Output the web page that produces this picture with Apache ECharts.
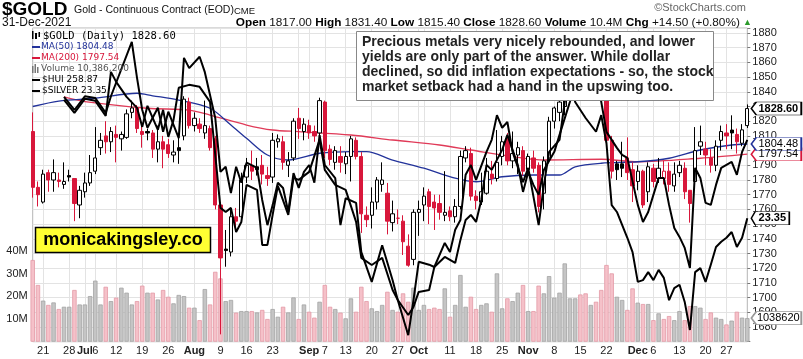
<!DOCTYPE html>
<html>
<head>
<meta charset="utf-8">
<script src="https://cdn.jsdelivr.net/npm/echarts@6/dist/echarts.min.js"></script>
<style>
html,body{margin:0;padding:0;background:#fff;}
#chart{width:803px;height:359px;}
</style>
</head>
<body>
<div id="chart"></div>
<script>
// ---------------- DATA ----------------
const dates = [
'06-17','06-18','06-21','06-22','06-23','06-24','06-25','06-28','06-29','06-30',
'07-01','07-02','07-06','07-07','07-08','07-09','07-12','07-13','07-14','07-15','07-16','07-19','07-20','07-21','07-22','07-23','07-26','07-27','07-28','07-29','07-30',
'08-02','08-03','08-04','08-05','08-06','08-09','08-10','08-11','08-12','08-13','08-16','08-17','08-18','08-19','08-20','08-23','08-24','08-25','08-26','08-27','08-30','08-31',
'09-01','09-02','09-03','09-07','09-08','09-09','09-10','09-13','09-14','09-15','09-16','09-17','09-20','09-21','09-22','09-23','09-24','09-27','09-28','09-29','09-30',
'10-01','10-04','10-05','10-06','10-07','10-08','10-11','10-12','10-13','10-14','10-15','10-18','10-19','10-20','10-21','10-22','10-25','10-26','10-27','10-28','10-29',
'11-01','11-02','11-03','11-04','11-05','11-08','11-09','11-10','11-11','11-12','11-15','11-16','11-17','11-18','11-19','11-22','11-23','11-24','11-26','11-29','11-30',
'12-01','12-02','12-03','12-06','12-07','12-08','12-09','12-10','12-13','12-14','12-15','12-16','12-17','12-20','12-21','12-22','12-23','12-27','12-28','12-29','12-30','12-31'];

const openP = [1813,1775,1765,1785,1780,1780,1777,1783,1781,1763,
1772,1778,1786,1802,1810,1806,1811,1808,1809,1826,1829,1813,1813,1812,1801,1806,1804,1797,1802,1810,1833,
1817,1818,1812,1815,1808,1763,1733,1731,1755,1755,1782,1790,1789,1790,1783,1782,1806,1806,1790,1795,1822,1813,
1817,1813,1812,1833,1801,1792,1796,1791,1796,1807,1796,1756,1756,1765,1777,1771,1751,1754,1752,1735,1726,
1758,1763,1772,1765,1764,1756,1759,1755,1762,1795,1798,1769,1765,1771,1784,1781,1796,1808,1793,1797,1800,
1787,1795,1790,1771,1795,1820,1826,1830,1850,1862,1866,1866,1853,1866,1861,1846,1807,1791,1791,1795,1787,
1779,1786,1772,1788,1781,1781,1786,1776,1785,1788,1773,1779,1803,1801,1795,1790,1807,1812,1814,1811,1805,1817];
const highP = [1826,1779,1787,1787,1794,1785,1792,1787,1781,1776,
1785,1797,1816,1812,1820,1816,1817,1813,1828,1834,1831,1817,1815,1814,1817,1810,1808,1807,1809,1837,1836,
1826,1822,1834,1817,1810,1765,1746,1760,1761,1785,1795,1800,1795,1797,1789,1812,1811,1810,1799,1822,1829,1822,
1821,1817,1836,1834,1804,1803,1803,1799,1810,1809,1799,1762,1775,1782,1792,1778,1766,1760,1756,1743,1760,
1766,1775,1774,1770,1770,1786,1762,1767,1800,1803,1802,1773,1785,1795,1793,1814,1810,1812,1813,1806,1803,
1798,1800,1792,1796,1823,1830,1835,1868,1866,1870,1873,1877,1872,1869,1866,1849,1810,1793,1806,1809,1792,
1790,1787,1792,1791,1795,1793,1792,1792,1793,1792,1773,1816,1817,1806,1801,1807,1817,1818,1824,1815,1818,1831.4];
const lowP = [1768,1762,1764,1772,1772,1775,1774,1779,1752,1754,
1768,1776,1784,1797,1798,1799,1792,1800,1808,1822,1812,1802,1807,1795,1792,1788,1795,1792,1791,1807,1815,
1813,1812,1808,1800,1760,1675,1721,1728,1748,1751,1778,1780,1783,1777,1776,1778,1802,1787,1782,1793,1808,1807,
1808,1806,1808,1795,1790,1787,1785,1784,1779,1794,1744,1748,1747,1760,1772,1743,1745,1750,1729,1721,1722,
1742,1752,1750,1746,1753,1752,1752,1751,1760,1792,1766,1760,1763,1770,1777,1779,1790,1790,1788,1784,1783,
1784,1785,1758,1760,1792,1815,1820,1824,1845,1856,1858,1849,1850,1856,1846,1802,1781,1780,1782,1780,1765,
1773,1761,1765,1775,1778,1777,1772,1772,1782,1767,1751,1776,1797,1790,1785,1786,1800,1801,1801,1798,1803,1815.4];
const closeP = [1775,1770,1784,1780,1785,1779,1779,1782,1764,1773,
1778,1785,1795,1807,1806,1813,1809,1811,1825,1829,1815,1811,1812,1801,1806,1801,1798,1799,1800,1835,1817,
1822,1815,1817,1802,1763,1727,1732,1755,1752,1780,1790,1786,1787,1784,1781,1807,1808,1792,1793,1820,1815,1818,
1812,1810,1834,1800,1794,1800,1792,1796,1808,1796,1757,1753,1765,1780,1780,1752,1757,1754,1738,1722,1758,
1760,1769,1762,1761,1758,1758,1755,1762,1796,1800,1769,1766,1772,1786,1781,1792,1806,1793,1798,1802,1786,
1796,1788,1762,1793,1820,1829,1833,1850,1862,1868,1866,1853,1868,1860,1852,1807,1786,1787,1788,1785,1776,
1786,1763,1789,1779,1788,1786,1777,1784,1790,1772,1764,1800,1806,1797,1790,1803,1813,1810,1812,1806,1814.1,1828.6];
// volume in millions
const volumeM = [36.0,25.0,18.1,16.2,17.3,14.4,15.4,15.4,22.8,16.4,
16.4,20.1,26.9,16.4,24.2,17.9,19.4,23.8,21.6,16.4,17.9,24.7,21.6,21.6,18.6,22.8,19.8,16.9,20.6,20.1,15.0,
15.0,9.5,23.2,16.4,30.8,27.9,17.9,18.4,12.8,13.5,13.5,13.5,12.9,14.0,10.0,14.4,11.0,15.4,12.9,19.5,10.0,16.4,
13.2,10.6,17.6,25.0,15.4,14.4,12.8,10.3,19.1,13.2,24.2,17.9,14.7,13.5,16.2,22.0,14.0,13.2,21.3,17.6,23.8,
14.0,16.2,14.4,15.0,14.4,23.5,11.0,16.2,29.4,15.4,19.8,14.4,16.2,16.9,13.2,30.1,14.7,19.1,17.9,21.6,25.0,
13.5,13.5,24.7,21.3,28.9,19.4,21.6,34.5,19.1,19.1,20.8,21.3,16.2,17.6,22.8,33.8,30.1,19.8,18.4,14.0,23.5,
17.2,16.6,16.6,9.5,12.5,10.0,11.3,9.5,13.5,9.5,15.7,15.7,15.0,10.0,12.9,10.6,10.0,7.6,9.3,13.2,10.6,10.3862];
// moving averages: [dayIndex, value]
const ma50 = [[0,1830.0],[5,1833.7],[12,1835.6],[20,1839.0],[23,1837.3],[28,1834.4],[34,1828.8],[38,1817.4],[41,1808.4],[45,1797.0],[49,1793.6],[55,1798.2],[61,1799.3],[64,1799.3],[69,1793.6],[75,1788.0],[81,1781.2],[85,1778.8],[90,1782.2],[96,1783.4],[101,1783.4],[104,1789.0],[109,1791.4],[116,1792.4],[122,1794.8],[128,1800.4],[134,1803.8],[137,1804.48]];
const ma200 = [[6,1836.5],[10,1833.3],[22,1828.8],[30,1827.6],[34,1824.2],[41,1817.4],[46,1814.0],[51,1812.9],[61,1810.6],[69,1807.2],[78,1803.8],[84,1800.4],[92,1795.9],[98,1793.6],[109,1794.1],[116,1792.4],[128,1794.8],[137,1797.54]];
// overlays: [dayIndex, value]
const hui = [[6,265.71],[8,263.49],[10,265.88],[12,265.54],[14,262.97],[15,270.49],[16,268.78],[18,266.22],[20,264.34],[21,261.09],[22,264.68],[24,260.58],[25,264.00],[26,259.38],[27,262.29],[28,267.76],[30,268.27],[32,267.93],[34,265.37],[36,247.25],[37,246.56],[38,247.25],[39,243.14],[40,244.85],[41,251.18],[43,250.32],[44,240.92],[45,240.92],[46,246.05],[47,251.01],[49,246.05],[50,252.37],[51,252.03],[53,253.40],[55,258.87],[56,253.74],[58,251.18],[60,250.32],[62,244.85],[63,238.70],[65,237.50],[67,238.70],[69,233.23],[70,231.52],[72,228.96],[73,230.32],[74,232.89],[76,233.23],[77,237.16],[79,238.87],[81,237.84],[82,241.78],[83,245.19],[84,246.05],[85,244.85],[86,248.61],[87,254.60],[88,253.74],[90,257.16],[91,259.72],[93,254.60],[94,249.98],[95,253.40],[96,251.18],[97,249.47],[98,253.74],[100,256.82],[101,259.72],[103,265.37],[105,272.55],[107,273.40],[108,269.13],[109,265.37],[110,260.24],[112,257.50],[113,256.31],[114,255.79],[116,247.76],[117,244.85],[118,246.56],[119,249.47],[120,252.37],[121,252.37],[122,247.76],[123,243.83],[124,242.29],[125,240.41],[126,236.99],[127,254.08],[128,252.37],[129,248.10],[130,247.76],[131,251.18],[132,254.08],[134,255.11],[135,252.89],[136,256.82],[137,258.87]];
const silver = [[6,25.47],[8,25.24],[10,25.48],[12,25.45],[14,25.19],[15,25.48],[19,26.43],[20,25.80],[21,25.24],[22,24.93],[24,25.28],[25,24.86],[26,25.21],[28,24.75],[29,26.15],[30,25.97],[32,26.17],[33,25.90],[35,25.10],[36,24.16],[37,24.25],[38,23.79],[39,24.25],[40,23.97],[41,24.32],[43,24.23],[44,23.67],[45,23.23],[46,23.58],[47,23.97],[48,23.88],[49,23.46],[50,24.14],[51,23.88],[52,24.16],[53,24.28],[54,23.97],[55,24.80],[56,24.28],[58,24.05],[59,23.23],[60,23.70],[62,23.62],[63,22.76],[65,22.24],[67,22.88],[69,22.27],[70,21.92],[72,21.31],[73,21.92],[74,22.59],[76,22.54],[77,22.50],[79,22.92],[80,22.76],[81,23.15],[82,23.32],[83,24.11],[84,24.28],[85,24.02],[87,24.51],[88,24.72],[89,25.15],[90,24.93],[91,25.03],[92,24.51],[94,23.98],[95,24.23],[97,23.23],[98,23.93],[99,24.51],[101,24.72],[102,25.38],[103,25.94],[104,25.38],[106,25.10],[108,24.86],[109,25.15],[110,24.66],[111,23.58],[112,23.46],[114,23.01],[115,22.76],[116,22.24],[117,22.27],[118,22.41],[119,22.27],[120,22.45],[121,22.31],[122,21.92],[123,22.13],[124,22.19],[125,21.89],[126,21.40],[127,22.41],[128,22.48],[129,22.24],[130,22.54],[131,22.85],[132,22.94],[133,23.01],[134,23.11],[135,22.85],[136,23.01],[137,23.35]];
// x tick labels
const tickLabels = {'06-21':'21','06-28':'28','07-01':'Jul','07-06':'6','07-12':'12','07-19':'19','07-26':'26','08-02':'Aug','08-09':'9','08-16':'16','08-23':'23','09-01':'Sep','09-07':'7','09-13':'13','09-20':'20','09-27':'27','10-01':'Oct','10-11':'11','10-18':'18','10-25':'25','11-01':'Nov','11-08':'8','11-15':'15','11-22':'22','12-01':'Dec','12-06':'6','12-13':'13','12-20':'20','12-27':'27'};
const monthNames = ['Jul','Aug','Sep','Oct','Nov','Dec'];
const extraGridDates = ['08-30','10-04','11-29'];
const volumeTickLabels = [10,20,30,40];

// ---------------- STYLE ----------------
const RED = '#d8173b';
const BLUE = '#22329a';
const MA200C = '#e03a58';
const FONT = '"Liberation Sans", Arial, sans-serif';
const n = dates.length, last = n - 1;
const gridDates = Object.keys(tickLabels).concat(extraGridDates);

const candleData = dates.map((d, i) => {
  const o = openP[i], c = closeP[i];
  const up = i === 0 ? c >= o : c >= closeP[i - 1];
  const col = up ? '#000' : RED;
  const fill = c > o ? '#fff' : col;
  return { value: [o, c, lowP[i], highP[i]],
    itemStyle: { color: fill, color0: fill, borderColor: col, borderColor0: col, borderColorDoji: col, borderWidth: 1 } };
});
const volData = dates.map((d, i) => {
  const down = i === 0 ? closeP[i] < openP[i] : closeP[i] < closeP[i - 1];
  return { value: volumeM[i],
    itemStyle: { color: down ? '#f5c1c9' : '#c5c5c5', borderColor: down ? '#e399a6' : '#a3a3a3', borderWidth: 0.8 } };
});

function tag(x, y, text, border, w, bold) {
  return {
    silent: true, animation: false,
    symbol: 'path://M0,6L5,0L50,0L50,12L5,12Z',
    symbolSize: [w, 13], symbolKeepAspect: false,
    symbolOffset: [w / 2 + 4, 0],
    itemStyle: { color: '#fff', borderColor: border, borderWidth: 1 },
    label: { show: true, position: 'inside', formatter: text, color: '#000', fontSize: 11,
      fontWeight: bold ? 'bold' : 'normal', fontFamily: FONT, offset: [2, 0] },
    data: [{ coord: [x, y] }]
  };
}

const lastClose = closeP[last];
const chg = lastClose - closeP[last - 1];
const chgPct = chg / closeP[last - 1] * 100;
const volRaw = Math.round(volumeM[last] * 1e6);
const hdr = '{b|Open} ' + openP[last].toFixed(2) + ' {b|High} ' + highP[last].toFixed(2) +
  ' {b|Low} ' + lowP[last].toFixed(2) + ' {b|Close} ' + lastClose.toFixed(2) +
  ' {b|Volume} ' + volumeM[last].toFixed(1) + 'M {b|Chg} ' + (chg >= 0 ? '+' : '') + chg.toFixed(2) +
  ' (' + (chg >= 0 ? '+' : '') + chgPct.toFixed(2) + '%) {g|▲}';

const maLast50 = ma50[ma50.length - 1][1], maLast200 = ma200[ma200.length - 1][1];
const huiLast = hui[hui.length - 1][1], silverLast = silver[silver.length - 1][1];

const LG = '"DejaVu Sans", sans-serif';
const graphic = [
  { type: 'text', x: 2, y: 10, z: 100, style: { text: '$GOLD', font: 'bold 19px ' + FONT, fill: '#000', verticalAlign: 'middle' } },
  { type: 'text', x: 74, y: 10, z: 100, style: { text: 'Gold - Continuous Contract (EOD)', font: '10.5px ' + FONT, fill: '#111', verticalAlign: 'middle' } },
  { type: 'text', x: 234, y: 11, z: 100, style: { text: 'CME', font: '9.5px ' + FONT, fill: '#111', verticalAlign: 'middle' } },
  { type: 'text', x: 2, y: 23, z: 100, style: { text: '31-Dec-2021', font: '12px ' + FONT, fill: '#111', verticalAlign: 'middle' } },
  { type: 'text', x: 746, y: 8, z: 100, style: { text: '©StockCharts.com', font: '11px ' + FONT, fill: '#666', align: 'right', verticalAlign: 'middle' } },
  { type: 'text', x: 752, y: 23, z: 100, style: { text: hdr, font: '11.8px ' + FONT, fill: '#111', align: 'right', verticalAlign: 'middle',
      rich: { b: { fontWeight: 'bold', fontSize: 11.8, fontFamily: FONT, fill: '#000' }, g: { fontSize: 9, fill: '#2a9a2a', fontFamily: FONT } } } },
  // legend
  { type: 'rect', z: 100, shape: { x: 32, y: 31, width: 1.5, height: 8 }, style: { fill: '#000' } },
  { type: 'rect', z: 100, shape: { x: 35, y: 33, width: 2, height: 6 }, style: { fill: '#000' } },
  { type: 'rect', z: 100, shape: { x: 38.5, y: 32, width: 1.5, height: 5 }, style: { fill: '#000' } },
  { type: 'text', x: 43, y: 36, z: 100, style: { text: '$GOLD (Daily) ' + lastClose.toFixed(2), font: '10.5px "DejaVu Sans Mono", monospace', fill: '#000', verticalAlign: 'middle' } },
  { type: 'line', z: 100, shape: { x1: 32, y1: 47, x2: 40, y2: 47 }, style: { stroke: BLUE, lineWidth: 2 } },
  { type: 'text', x: 41, y: 47, z: 100, style: { text: 'MA(50) ' + maLast50.toFixed(2), font: '9px ' + LG, fill: BLUE, verticalAlign: 'middle' } },
  { type: 'line', z: 100, shape: { x1: 32, y1: 58, x2: 40, y2: 58 }, style: { stroke: RED, lineWidth: 2 } },
  { type: 'text', x: 41, y: 58, z: 100, style: { text: 'MA(200) ' + maLast200.toFixed(2), font: '9px ' + LG, fill: RED, verticalAlign: 'middle' } },
  { type: 'rect', z: 100, shape: { x: 32, y: 66, width: 1.5, height: 7 }, style: { fill: '#777' } },
  { type: 'rect', z: 100, shape: { x: 34.5, y: 64, width: 1.5, height: 9 }, style: { fill: '#777' } },
  { type: 'rect', z: 100, shape: { x: 37, y: 67, width: 1.5, height: 6 }, style: { fill: '#777' } },
  { type: 'text', x: 41, y: 69, z: 100, style: { text: 'Volume ' + volRaw.toLocaleString('en-US'), font: '9px ' + LG, fill: '#555', verticalAlign: 'middle' } },
  { type: 'line', z: 100, shape: { x1: 32, y1: 80, x2: 40, y2: 80 }, style: { stroke: '#000', lineWidth: 2 } },
  { type: 'text', x: 42, y: 80, z: 100, style: { text: '$HUI ' + huiLast.toFixed(2), font: '9px ' + LG, fill: '#000', verticalAlign: 'middle' } },
  { type: 'line', z: 100, shape: { x1: 32, y1: 91, x2: 40, y2: 91 }, style: { stroke: '#000', lineWidth: 2 } },
  { type: 'text', x: 42, y: 91, z: 100, style: { text: '$SILVER ' + silverLast.toFixed(2), font: '9px ' + LG, fill: '#000', verticalAlign: 'middle' } },
  // comment box
  { type: 'rect', z: 110, shape: { x: 356.5, y: 31.5, width: 357, height: 69 }, style: { fill: '#fff', stroke: '#888', lineWidth: 1 } },
  { type: 'text', x: 362, y: 35, z: 111, style: {
      text: 'Precious metals very nicely rebounded, and lower\nyields are only part of the answer. While dollar\ndeclined, so did inflation expectations - so, the stock\nmarket setback had a hand in the upswing too.',
      font: 'bold 14px ' + FONT, lineHeight: 15, fill: '#222' } },
  // site box
  { type: 'rect', z: 110, shape: { x: 35.5, y: 227.5, width: 175, height: 25 }, style: { fill: '#ffff33', stroke: '#000', lineWidth: 1.5 } },
  { type: 'text', x: 123, y: 240, z: 111, style: { text: 'monicakingsley.co', font: 'bold 18px ' + FONT, fill: '#000', align: 'center', verticalAlign: 'middle' } }
];

const option = {
  animation: false,
  backgroundColor: '#fff',
  textStyle: { fontFamily: FONT },
  grid: { left: 32.7, right: 55.7, top: 28, bottom: 17.3, show: true, borderColor: '#b5b5b5', borderWidth: 1, containLabel: false, outerBoundsMode: 'none' },
  xAxis: {
    type: 'category', data: dates, boundaryGap: false,
    axisLine: { show: false }, axisTick: { show: false },
    axisLabel: { interval: 0, margin: 4, fontSize: 11, color: '#222', fontFamily: FONT,
      formatter: v => { const t = tickLabels[v]; if (!t) return ''; return monthNames.includes(t) ? '{m|' + t + '}' : t; },
      rich: { m: { fontWeight: 'bold', fontSize: 11, color: '#222', fontFamily: FONT } } },
    splitLine: { show: true, interval: (i, v) => gridDates.includes(v), lineStyle: { color: '#e3e3e3', width: 1 } }
  },
  yAxis: [
    { type: 'value', position: 'right', min: 1670, max: 1883.4, interval: 10,
      axisLine: { show: false }, axisTick: { show: true, length: 3, lineStyle: { color: '#777' } },
      axisLabel: { margin: 5, fontSize: 11, color: '#222', fontFamily: FONT,
        formatter: v => (v >= 1680 && v <= 1880 && Math.abs(v - Math.round(v)) < 0.01) ? String(Math.round(v)) : '' },
      splitLine: { show: true, lineStyle: { color: '#e3e3e3', width: 1 } } },
    { type: 'value', position: 'left', min: 0, max: 138.2, interval: 10,
      axisLine: { show: false }, axisTick: { show: false }, splitLine: { show: false },
      axisLabel: { margin: 5, fontSize: 11, color: '#222', fontFamily: FONT,
        formatter: v => volumeTickLabels.includes(Math.round(v)) && Math.abs(v - Math.round(v)) < 0.01 ? Math.round(v) + 'M' : '' } },
    { type: 'value', show: false, min: 224.39, max: 277.98 },
    { type: 'value', show: false, min: 21.196, max: 26.671 }
  ],
  series: [
    { name: 'Volume', type: 'bar', yAxisIndex: 1, data: volData, barWidth: 4.4, z: 1, silent: true,
      markPoint: tag(last, volumeM[last], String(volRaw).slice(0, 7), '#999', 50, false) },
    { name: 'MA200', type: 'line', data: ma200, smooth: 0.3, symbol: 'none', z: 3, silent: true,
      lineStyle: { color: MA200C, width: 1.3 },
      markPoint: tag(last, maLast200, maLast200.toFixed(2), RED, 50, false) },
    { name: 'MA50', type: 'line', data: ma50, smooth: 0.3, symbol: 'none', z: 3, silent: true,
      lineStyle: { color: BLUE, width: 1.3 },
      markPoint: tag(last, maLast50, maLast50.toFixed(2), BLUE, 50, false) },
    { name: 'GOLD', type: 'candlestick', data: candleData, barWidth: 3.8, z: 4, silent: true,
      markPoint: tag(last, lastClose, lastClose.toFixed(2), '#000', 50, true) },
    { name: 'HUI', type: 'line', yAxisIndex: 2, data: hui, symbol: 'none', z: 5, silent: true,
      lineStyle: { color: '#000', width: 2 } },
    { name: 'SILVER', type: 'line', yAxisIndex: 3, data: silver, symbol: 'none', z: 5, silent: true,
      lineStyle: { color: '#000', width: 2 },
      markPoint: tag(last, silverLast, silverLast.toFixed(2), '#000', 38, true) }
  ],
  graphic: graphic
};

const chart = echarts.init(document.getElementById('chart'), null, { renderer: 'canvas', width: 803, height: 359 });
chart.setOption(option);
</script>
</body>
</html>
